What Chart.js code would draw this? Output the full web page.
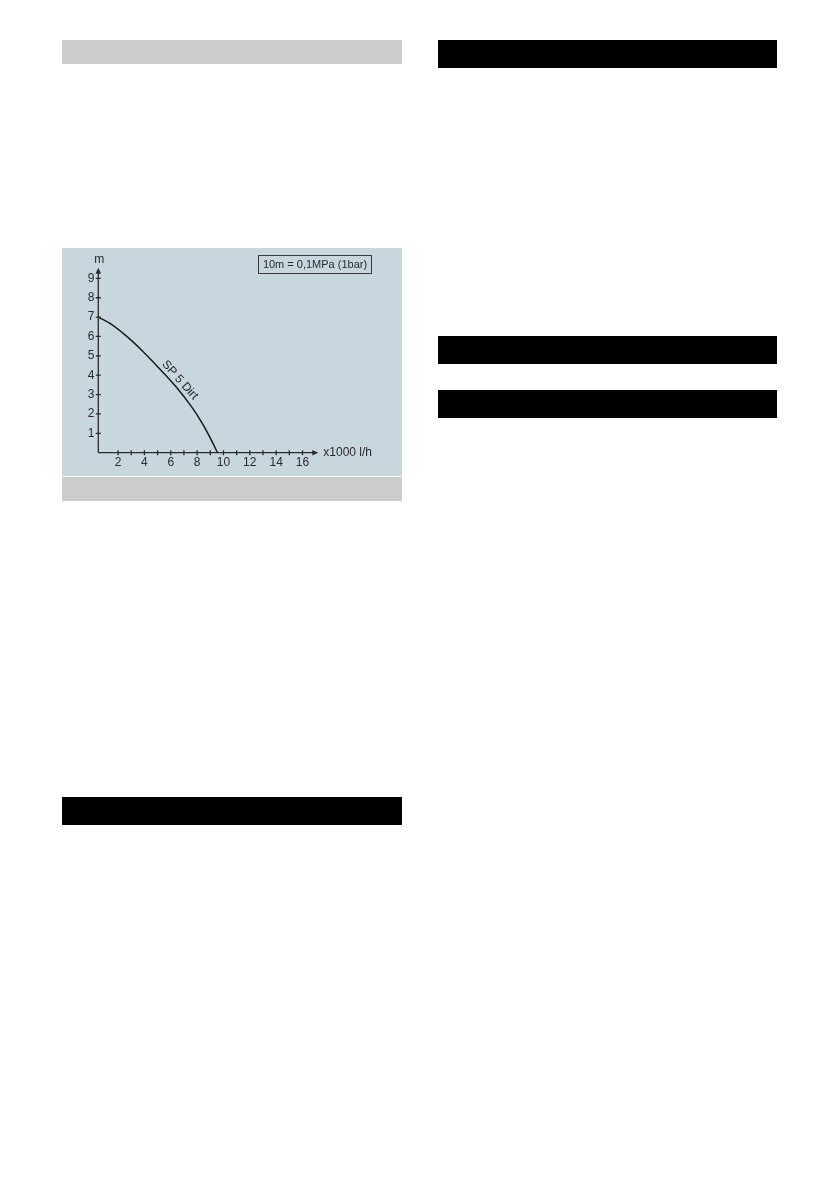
<!DOCTYPE html>
<html>
<head>
<meta charset="utf-8">
<script src="https://cdn.jsdelivr.net/npm/chart.js@4/dist/chart.umd.min.js"></script>
<style>
    body { margin: 0; background: #fff; width: 839px; height: 1190px; position: relative; font-family: "Liberation Sans", Arial, sans-serif; }
    .bar { position: absolute; }
    .grey { background: #cccccc; }
    .black { background: #000; }
    #chartBox { position: absolute; left: 62px; top: 248px; width: 340px; height: 228px; background: #c8d6de; }
    #unitNote { position: absolute; left: 196px; top: 7px; width: 112px; height: 17px; border: 1px solid #3a3a3a;
        font-size: 11px; line-height: 17px; text-align: center; color: #2a2a2a; }
</style>
</head>
<body>
<div class="bar grey" style="left:62px;top:40px;width:340px;height:24px"></div>
<div class="bar black" style="left:438px;top:40px;width:339px;height:28px"></div>
<div class="bar black" style="left:438px;top:336px;width:339px;height:28px"></div>
<div class="bar black" style="left:438px;top:390px;width:339px;height:28px"></div>
<div id="chartBox">
    <canvas id="pumpChart"></canvas>
    <div id="unitNote">10m = 0,1MPa (1bar)</div>
</div>
<div class="bar grey" style="left:62px;top:477px;width:340px;height:24px"></div>
<div class="bar black" style="left:62px;top:797px;width:340px;height:28px"></div>

<script>
// Kennlinie SP 5 Dirt (Förderhöhe über Fördermenge)
const flow = [0.5, 1.5, 2.75, 4.0, 5.2, 6.4, 7.6, 8.45, 9.1, 9.55];   // x1000 l/h
const head = [7.0, 6.62, 5.95, 5.15, 4.3, 3.4, 2.35, 1.45, 0.62, 0];  // m
const xTicks = [2, 3, 4, 5, 6, 7, 8, 9, 10, 11, 12, 13, 14, 15, 16];
const xLabels = [2, 4, 6, 8, 10, 12, 14, 16];
const yTicks = [1, 2, 3, 4, 5, 6, 7, 8, 9];
const curveName = 'SP 5 Dirt';
const xAxisName = 'x1000 l/h';
const yAxisName = 'm';

const inkColor = '#2a2a2a';
const fontFamily = '"Liberation Sans", Arial, sans-serif';

// Achsen mit Pfeilen, Kreuz-Ticks und Beschriftungen
const axesPlugin = {
    id: 'axesPlugin',
    afterDraw(chart) {
        const ctx = chart.ctx;
        const x = chart.scales.x;
        const y = chart.scales.y;
        const x0 = x.getPixelForValue(x.min);
        const y0 = y.getPixelForValue(0);
        const xEnd = x.getPixelForValue(x.max);
        const yEnd = y.getPixelForValue(y.max);

        ctx.save();
        ctx.strokeStyle = inkColor;
        ctx.fillStyle = inkColor;
        ctx.lineWidth = 1.3;

        ctx.beginPath();
        ctx.moveTo(x0, y0);
        ctx.lineTo(xEnd - 4, y0);
        ctx.moveTo(x0, y0);
        ctx.lineTo(x0, yEnd + 4);
        xTicks.forEach(v => {
            const px = x.getPixelForValue(v);
            ctx.moveTo(px, y0 - 2.5);
            ctx.lineTo(px, y0 + 2.5);
        });
        yTicks.forEach(v => {
            const py = y.getPixelForValue(v);
            ctx.moveTo(x0 - 2.5, py);
            ctx.lineTo(x0 + 2.5, py);
        });
        ctx.stroke();

        // Pfeilspitzen
        ctx.beginPath();
        ctx.moveTo(xEnd, y0);
        ctx.lineTo(xEnd - 6, y0 - 2.8);
        ctx.lineTo(xEnd - 6, y0 + 2.8);
        ctx.closePath();
        ctx.moveTo(x0, yEnd);
        ctx.lineTo(x0 - 2.8, yEnd + 6);
        ctx.lineTo(x0 + 2.8, yEnd + 6);
        ctx.closePath();
        ctx.fill();

        ctx.font = '12px ' + fontFamily;
        ctx.textBaseline = 'middle';
        ctx.textAlign = 'left';
        ctx.fillText(xAxisName, xEnd + 5, y0);
        ctx.textAlign = 'center';
        ctx.fillText(yAxisName, x0 + 1, yEnd - 8);

        // Kurvenbeschriftung parallel zur Linie
        const lx = x.getPixelForValue(6.3);
        const ly = y.getPixelForValue(3.5);
        ctx.translate(lx, ly);
        ctx.rotate(48 * Math.PI / 180);
        ctx.fillText(curveName, 0, -7);
        ctx.restore();
    }
};

const ctx = document.getElementById('pumpChart').getContext('2d');
window.pumpChart = new Chart(ctx, {
    type: 'line',
    data: {
        datasets: [{
            label: curveName,
            data: flow.map((f, i) => ({ x: f, y: head[i] })),
            borderColor: '#1a1a1a',
            borderWidth: 1.5,
            pointRadius: 0,
            tension: 0.4,
            fill: false
        }]
    },
    options: {
        responsive: true,
        maintainAspectRatio: false,
        animation: false,
        layout: { padding: { top: 19.7, right: 83.7, left: 0, bottom: 0 } },
        plugins: { legend: { display: false }, tooltip: { enabled: false } },
        scales: {
            x: {
                type: 'linear',
                min: 0.5,
                max: 17.2,
                grid: { display: false, drawTicks: false },
                border: { display: false },
                afterBuildTicks: scale => { scale.ticks = xLabels.map(v => ({ value: v })); },
                afterFit: scale => { scale.height = 23.3; },
                ticks: {
                    padding: 3,
                    color: inkColor,
                    font: { family: fontFamily, size: 12 },
                    maxRotation: 0,
                    autoSkip: false
                }
            },
            y: {
                type: 'linear',
                min: 0,
                max: 9.55,
                grid: { display: false, drawTicks: false },
                border: { display: false },
                afterBuildTicks: scale => { scale.ticks = yTicks.map(v => ({ value: v })); },
                afterFit: scale => { scale.width = 36.3; },
                ticks: {
                    padding: 4,
                    color: inkColor,
                    font: { family: fontFamily, size: 12 }
                }
            }
        }
    },
    plugins: [axesPlugin]
});
</script>
</body>
</html>
